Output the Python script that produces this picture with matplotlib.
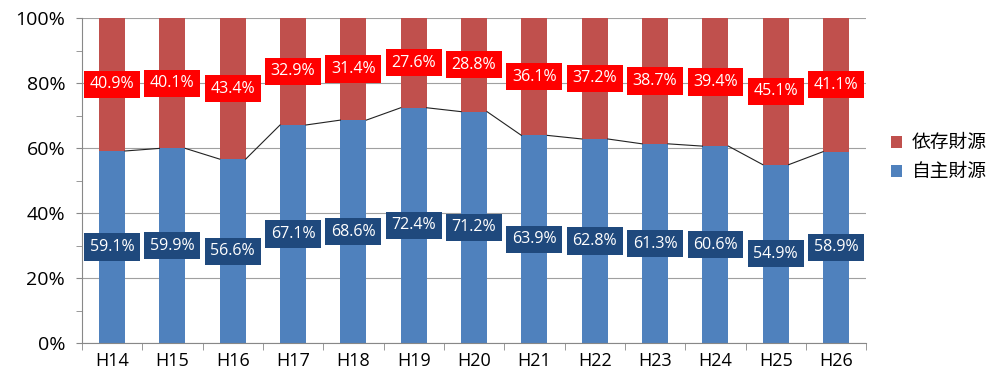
import matplotlib.pyplot as plt
import numpy as np

plt.rcParams['font.family'] = ['Open Sans', 'Noto Sans CJK JP', 'DejaVu Sans']

years = ["H14", "H15", "H16", "H17", "H18", "H19", "H20",
         "H21", "H22", "H23", "H24", "H25", "H26"]
own = [59.1, 59.9, 56.6, 67.1, 68.6, 72.4, 71.2, 63.9, 62.8, 61.3, 60.6, 54.9, 58.9]
dep = [40.9, 40.1, 43.4, 32.9, 31.4, 27.6, 28.8, 36.1, 37.2, 38.7, 39.4, 45.1, 41.1]

RED = "#C0504D"
BLUE = "#4F81BD"

fig = plt.figure(figsize=(9.98, 3.83), dpi=100)
ax = fig.add_axes([0.082, 0.104, 0.786, 0.849])

x = np.arange(len(years))
w = 0.43
ax.bar(x, own, width=w, color=BLUE, label="自主財源", zorder=2)
ax.bar(x, dep, width=w, bottom=own, color=RED, label="依存財源", zorder=2)

# series lines between bars (Excel style)
for i in range(len(x) - 1):
    ax.plot([x[i] + w / 2, x[i + 1] - w / 2], [own[i], own[i + 1]],
            color="#222222", lw=0.8, zorder=2)

for i in range(len(x)):
    ax.text(x[i], own[i] / 2, f"{own[i]:.1f}%", ha="center", va="center",
            color="white", fontsize=11.5, zorder=4,
            bbox=dict(boxstyle="square,pad=0.35", fc="#1F497D", ec="none"))
    ax.text(x[i], own[i] + dep[i] / 2, f"{dep[i]:.1f}%", ha="center", va="center",
            color="white", fontsize=11.5, zorder=4,
            bbox=dict(boxstyle="square,pad=0.35", fc="#FF0000", ec="none"))

ax.set_xlim(-0.5, len(x) - 0.5)
ax.set_ylim(0, 100)
ax.set_yticks(np.arange(0, 101, 20))
ax.set_yticklabels([f"{v}%" for v in range(0, 101, 20)], fontsize=14)
ax.set_yticks(np.arange(10, 100, 20), minor=True)
ax.set_xticks(x)
ax.set_xticklabels(years, fontsize=13)
ax.set_xticks(np.arange(-0.5, len(x), 1), minor=True)
ax.tick_params(axis="x", which="major", length=0, pad=6)
ax.tick_params(axis="x", which="minor", length=5, color="#888888")
ax.tick_params(axis="y", which="both", length=4, color="#888888", pad=8)
ax.grid(axis="y", color="#a0a0a0", lw=0.8, zorder=0)
for s in ["top", "right"]:
    ax.spines[s].set_visible(False)
ax.spines["left"].set_color("#888888")
ax.spines["bottom"].set_color("#888888")

handles, labels = ax.get_legend_handles_labels()
ax.legend(handles[::-1], labels[::-1], loc="center left", bbox_to_anchor=(1.01, 0.57),
          frameon=False, fontsize=13.5, handlelength=0.6, handleheight=0.6,
          handletextpad=0.5, labelspacing=0.6)

fig.savefig("out.png", dpi=100)
